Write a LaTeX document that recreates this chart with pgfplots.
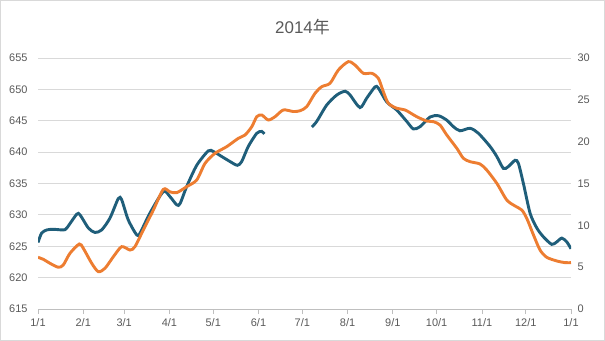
\documentclass[border=0pt]{standalone}
\usepackage{fontspec}
\setmainfont{Liberation Sans}
\newfontfamily\cjk{Noto Sans CJK SC}
\usepackage{pgfplots}
\pgfplotsset{compat=1.18}
\definecolor{cblue}{RGB}{31,94,122}
\definecolor{corange}{RGB}{237,125,49}
\definecolor{tgray}{RGB}{89,89,89}
\definecolor{ggray}{RGB}{217,217,217}
\definecolor{agray}{RGB}{191,191,191}
\begin{document}
\begin{tikzpicture}
\path[use as bounding box] (0bp,0bp) rectangle (605bp,341bp);
\draw[ggray, line width=0.75bp] (0.5bp,0.5bp) rectangle (604.5bp,340.5bp);
\node[anchor=base, text=tgray, font=\fontsize{17}{20}\selectfont, inner sep=0pt] at (302.5bp,307.7bp) {2014{\cjk 年}};
\pgfplotsset{
  common/.style={
    at={(38bp,32bp)}, anchor=south west, scale only axis,
    width=533bp, height=251bp,
    xmin=0, xmax=365,
    /pgf/number format/assume math mode=true,
    tick label style={text=tgray, font=\fontsize{11}{13}\selectfont},
  }
}
\begin{axis}[common,
  ymin=615, ymax=655, ytick={615,620,...,655},
  axis x line=bottom, axis y line=left,
  x axis line style={-, draw=agray, line width=0.75bp},
  y axis line style={draw=none},
  ytick style={draw=none},
  xtick={0,31,59,90,120,151,181,212,243,273,304,334,365},
  xticklabels={1/1,2/1,3/1,4/1,5/1,6/1,7/1,8/1,9/1,10/1,11/1,12/1,1/1},
  xtick style={draw=agray, line width=0.75bp},
  tick align=outside, major tick length=5bp,
  ymajorgrids, grid style={ggray, line width=0.75bp},
  yticklabel style={xshift=-2bp},
  xticklabel style={yshift=-1bp},
]
\addplot[cblue, line width=2.9bp, smooth, tension=0.45] coordinates {
(0,625.6) (2.5,627.1) (6,627.6) (10.5,627.7) (17.3,627.6) (19.7,627.9)
(26.5,630.1) (28.8,630.0) (34.5,627.9) (39,627.2) (43.6,627.6) (49.3,629.5)
(55,632.6) (57.3,632.4) (61.8,629.2) (67.6,626.8) (69.9,627.1) (76.7,630.3)
(85.8,633.7) (90.4,632.9) (95,631.6) (97.3,631.8) (101.8,634.5) (108.7,637.9)
(116.6,640.2) (120.1,640.1) (125.8,639.3) (131.5,638.5) (136.5,637.9) (139.5,638.5)
(144,640.9) (149.8,643.0) (153.2,643.3) (155,642.9)
};
\addplot[cblue, line width=2.9bp, smooth, tension=0.45] coordinates {
(187.5,644.0) (190.9,644.9) (197.7,647.5) (204.6,649.1) (210.3,649.7) (213.7,649.1)
(220.5,647.1) (225.1,648.6) (230.8,650.4) (233.1,650.2) (238.8,648.0) (245.7,646.7)
(252.5,644.9) (257,643.7) (261.6,644.05) (268.5,645.6) (274.2,645.8) (279.9,645.1)
(284.5,644.05) (289,643.4) (295.9,643.8) (301.6,643.0) (309.6,640.9) (314.2,639.3)
(318.7,637.4) (322.1,637.7) (326.7,638.7) (329,638.2) (332.4,635.0) (337,630.25)
(341.6,627.9) (346.1,626.5) (351.8,625.3) (355.3,625.7) (358.7,626.3) (362.1,625.7)
(365,624.6)
};
\end{axis}
\begin{axis}[common,
  ymin=0, ymax=30, ytick={0,5,...,30},
  axis x line=none, axis y line*=right,
  y axis line style={draw=none},
  ytick style={draw=none},
  yticklabel style={xshift=3bp},
]
\addplot[corange, line width=2.9bp, smooth, tension=0.45] coordinates {
(0,6.18) (3.6,5.94) (8.2,5.46) (13.9,4.99) (17.3,5.26) (21.9,6.66) (28.3,7.77)
(31,7.26) (36.8,5.46) (41.3,4.46) (45.9,4.87) (51.6,6.25) (57.3,7.45) (63,7.05)
(66.4,7.45) (72.1,9.44) (79,11.83) (85.8,14.3) (90.4,14.0) (95,13.9) (101.8,14.62)
(108.7,15.42) (114.4,17.41) (121.2,18.61) (129.2,19.40) (137.2,20.40) (141.8,20.80)
(146.4,21.79) (149.8,22.98) (153.2,23.19) (157.7,22.59) (162.3,22.98) (168,23.79)
(174.9,23.6) (179.5,23.7) (184,24.18) (189.7,25.78) (194.3,26.57) (200,26.98)
(205.7,28.57) (212.5,29.56) (217.1,29.16) (222.8,28.17) (228.6,28.17) (233.1,27.57)
(236.5,25.97) (239.9,24.59) (245.7,23.99) (251.4,23.79) (259.4,22.98) (266.2,22.47)
(270.8,22.39) (275.3,21.99) (279.9,20.80) (286.8,19.21) (291.3,18.01) (295.9,17.61)
(302.7,17.33) (307.3,16.61) (314.2,15.02) (321,13.03) (326.7,12.31) (331.3,11.83)
(334.7,10.84) (339.3,8.85) (343.8,7.05) (348.4,6.18) (355.3,5.74) (361,5.54) (365,5.54)
};
\end{axis}
\end{tikzpicture}
\end{document}
